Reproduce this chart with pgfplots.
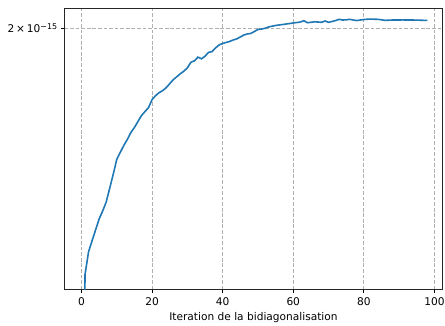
\documentclass[border=0pt]{standalone}
\usepackage{fontspec}
\setmainfont{DejaVu Sans}
\usepackage{pgfplots}
\pgfplotsset{compat=1.18}
\definecolor{mplblue}{RGB}{31,119,180}
\definecolor{gridgray}{RGB}{176,176,176}
\begin{document}
\begin{tikzpicture}
\useasboundingbox (-48.75pt,-27pt) rectangle (287pt,218.25pt);
\begin{axis}[
  at={(0,0)}, anchor=south west,
  scale only axis, width=285pt, height=212.25pt,
  xmin=-4.79, xmax=102.25,
  ymode=log, ymin=1.056e-15, ymax=2.1e-15,
  xtick={0,20,...,100},
  ytick={2e-15},
  yticklabels={2\,×\,10\textsuperscript{−15}},
  yminorticks=false, minor tick num=0,
  xtick pos=bottom, ytick pos=left,
  tick align=outside, major tick length=2.8pt,
  tick style={black, line width=0.6pt},
  axis line style={black!85, line width=0.6pt},
  grid=major,
  grid style={gridgray, dash pattern=on 2.8pt off 1.4pt, line width=0.6pt},
  /pgf/number format/assume math mode=true,
  tick label style={font=\fontsize{8}{9.6}\selectfont},
  yticklabel style={xshift=1.2pt},
  label style={font=\fontsize{8}{9.6}\selectfont},
  xlabel={Iteration de la bidiagonalisation},
  xlabel style={yshift=2pt},
]
\addplot[mplblue, line width=1.2pt] table {
x y
0 0.50e-15
1 1.0952e-15
2 1.1581e-15
3 1.1896e-15
4 1.2217e-15
5 1.2547e-15
6 1.2793e-15
7 1.3076e-15
8 1.3529e-15
9 1.3997e-15
10 1.4517e-15
11 1.4765e-15
12 1.5018e-15
13 1.5239e-15
14 1.5500e-15
15 1.5689e-15
16 1.5920e-15
17 1.6154e-15
18 1.6312e-15
19 1.6471e-15
20 1.6795e-15
21 1.6958e-15
22 1.7083e-15
23 1.7166e-15
24 1.7291e-15
25 1.7460e-15
26 1.7631e-15
27 1.7760e-15
28 1.7890e-15
29 1.7999e-15
30 1.8152e-15
31 1.8397e-15
32 1.8464e-15
33 1.8631e-15
34 1.8554e-15
35 1.8676e-15
36 1.8850e-15
37 1.8886e-15
38 1.9058e-15
39 1.9197e-15
40 1.9267e-15
41 1.9313e-15
42 1.9361e-15
43 1.9431e-15
44 1.9479e-15
45 1.9573e-15
46 1.9669e-15
47 1.9717e-15
48 1.9741e-15
49 1.9837e-15
50 1.9933e-15
51 1.9957e-15
52 1.9991e-15
53 2.0054e-15
54 2.0093e-15
55 2.0128e-15
56 2.0152e-15
57 2.0176e-15
58 2.0201e-15
59 2.0226e-15
60 2.0250e-15
61 2.0274e-15
62 2.0299e-15
63 2.0363e-15
64 2.0265e-15
65 2.0284e-15
66 2.0309e-15
67 2.0299e-15
68 2.0284e-15
69 2.0349e-15
70 2.0284e-15
71 2.0324e-15
72 2.0373e-15
73 2.0433e-15
74 2.0398e-15
75 2.0408e-15
76 2.0433e-15
77 2.0398e-15
78 2.0373e-15
79 2.0398e-15
80 2.0423e-15
81 2.0438e-15
82 2.0447e-15
83 2.0438e-15
84 2.0433e-15
85 2.0408e-15
86 2.0383e-15
87 2.0388e-15
88 2.0398e-15
89 2.0398e-15
90 2.0398e-15
91 2.0403e-15
92 2.0398e-15
93 2.0398e-15
94 2.0398e-15
95 2.0393e-15
96 2.0388e-15
97 2.0383e-15
98 2.0383e-15
};
\end{axis}
\end{tikzpicture}
\end{document}
